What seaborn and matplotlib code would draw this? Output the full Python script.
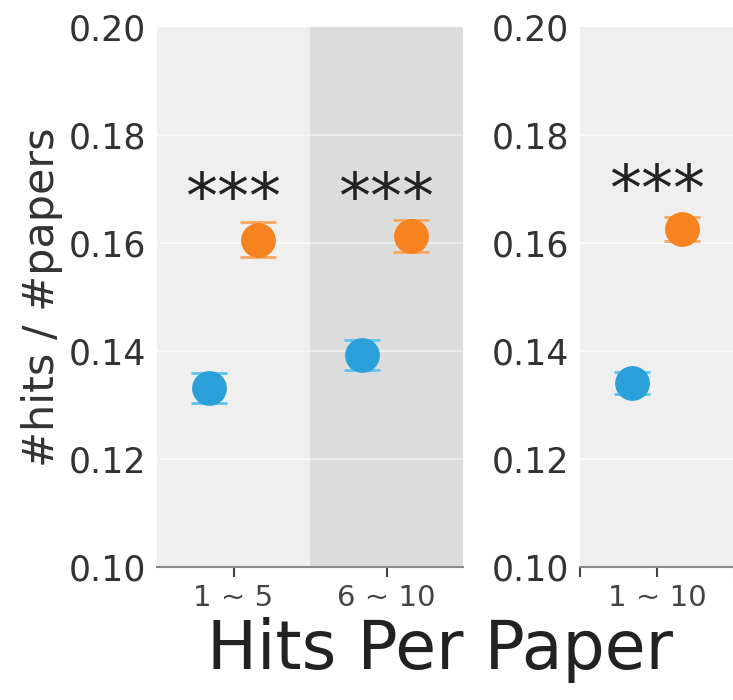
import numpy as np
import pandas as pd
import seaborn as sns
import matplotlib
matplotlib.use("Agg")
import matplotlib.pyplot as plt

# data
left_bins = ["1 ~ 5", "6 ~ 10"]
right_bins = ["1 ~ 10"]
groups = ["blue", "orange"]

left_blue = [0.1331, 0.1393]
left_orange = [0.1606, 0.1613]
left_blue_err = [0.0028, 0.0028]
left_orange_err = [0.0032, 0.0030]

right_blue = [0.1341]
right_orange = [0.1626]
right_blue_err = [0.0020]
right_orange_err = [0.0022]

star_height = [0.1680, 0.1680]
star_height_right = [0.1694]

yticks = [0.10, 0.12, 0.14, 0.16, 0.18, 0.20]

BLUE = "#2a9fd8"
ORANGE = "#f5831f"
BLUE_ERR = "#5cc4ee"
ORANGE_ERR = "#f9a65c"

sns.set_theme(style="white")
plt.rcParams["font.family"] = ["DejaVu Sans"]


def make_frame(bins, blue, orange):
    rows = []
    for b, v in zip(bins, blue):
        rows.append({"bin": b, "group": "blue", "value": v})
    for b, v in zip(bins, orange):
        rows.append({"bin": b, "group": "orange", "value": v})
    return pd.DataFrame(rows)


def draw_panel(ax, bins, blue, orange, blue_err, orange_err, stars, bands):
    df = make_frame(bins, blue, orange)
    ax.set_facecolor("#efefef")
    if bands:
        ax.axvspan(0.5, 1.5, color="#dcdcdc", zorder=0, lw=0)
    for y in yticks[1:-1]:
        ax.axhline(y, color="white", lw=1.2, alpha=0.6, zorder=0.5)

    dodge = 0.32
    idx = np.arange(len(bins))
    ax.errorbar(idx - dodge / 2, blue, yerr=blue_err, fmt="none",
                ecolor=BLUE_ERR, elinewidth=2, capsize=13, capthick=2, zorder=2)
    ax.errorbar(idx + dodge / 2, orange, yerr=orange_err, fmt="none",
                ecolor=ORANGE_ERR, elinewidth=2, capsize=13, capthick=2, zorder=2)
    sns.pointplot(data=df, x="bin", y="value", hue="group", order=bins,
                  hue_order=groups, palette=[BLUE, ORANGE], dodge=dodge,
                  linestyle="none", markers="o", markersize=23, errorbar=None,
                  legend=False, ax=ax)
    for line in ax.lines:
        line.set_zorder(3)

    # significance stars
    for i, h in enumerate(stars):
        ax.text(i, h, "***", ha="center", va="center", fontsize=46,
                color="#222222")

    ax.set_xlim(-0.5, len(bins) - 0.5)
    ax.set_ylim(0.10, 0.20)
    ax.set_yticks(yticks)
    ax.set_yticklabels([f"{t:.2f}" for t in yticks], fontsize=25,
                       color="#333333")
    ax.set_xlabel("")
    ax.set_ylabel("")
    for s in ["top", "right", "left"]:
        ax.spines[s].set_visible(False)
    ax.spines["bottom"].set_color("#8a8a8a")
    ax.spines["bottom"].set_linewidth(1.5)
    ax.tick_params(axis="y", length=0, pad=8)
    ax.tick_params(axis="x", bottom=True, length=7, width=1.5,
                   color="#444444", direction="out", labelsize=21,
                   labelcolor="#444444", pad=5)
    ax.grid(False)


fig = plt.figure(figsize=(7.33, 7.0), dpi=100)
ax1 = fig.add_axes([157 / 733, 133 / 700, 306 / 733, 540 / 700])
ax2 = fig.add_axes([580 / 733, 133 / 700, 154 / 733, 540 / 700])

draw_panel(ax1, left_bins, left_blue, left_orange, left_blue_err,
           left_orange_err, star_height, bands=True)
draw_panel(ax2, right_bins, right_blue, right_orange, right_blue_err,
           right_orange_err, star_height_right, bands=False)

# small edge ticks on the right panel's axis
ax2.set_xticks([-0.5, 0, 0.5])
ax2.set_xticklabels(["", right_bins[0], ""])

ax1.set_ylabel("#hits / #papers", fontsize=31, color="#333333", labelpad=4)
fig.text(440 / 733, 1 - 650 / 700, "Hits Per Paper", ha="center",
         va="center", fontsize=48, color="#222222")

fig.savefig("out.png", dpi=100, facecolor="white")
